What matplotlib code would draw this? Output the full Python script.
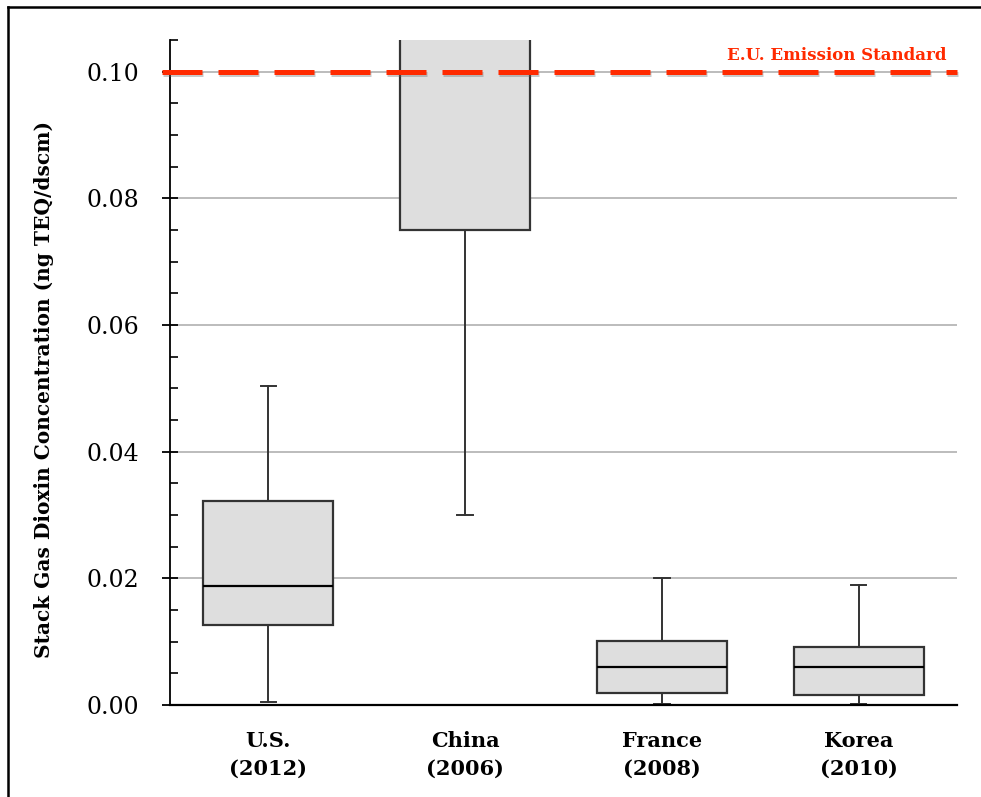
import matplotlib
matplotlib.use("Agg")
import matplotlib.pyplot as plt
import matplotlib.patheffects as pe
from matplotlib.lines import Line2D
from matplotlib.ticker import MultipleLocator, FormatStrFormatter

# Box-plot summary statistics (ng TEQ/dscm); China's upper part runs off the chart
countries = ["U.S.\n(2012)", "China\n(2006)", "France\n(2008)", "Korea\n(2010)"]
whisker_low = [0.0005, 0.030, 0.0002, 0.0002]
q1 = [0.0126, 0.075, 0.0019, 0.0016]
median = [0.0188, 0.120, 0.0060, 0.0060]
q3 = [0.0322, 0.150, 0.0101, 0.0091]
whisker_high = [0.0504, 0.200, 0.0200, 0.0190]

eu_standard = 0.10

stats = []
for lab, lo, a, m, b, hi in zip(countries, whisker_low, q1, median, q3, whisker_high):
    stats.append(dict(label=lab, whislo=lo, q1=a, med=m, q3=b, whishi=hi, fliers=[]))

plt.rcParams["font.family"] = "DejaVu Serif"

fig = plt.figure(figsize=(9.81, 7.97), dpi=100)
ax = fig.add_axes([0.1733, 0.1154, 0.8022, 0.8344])

ax.grid(axis="y", color="#aaaaaa", linewidth=1.1, zorder=0)
ax.set_axisbelow(True)

ax.bxp(stats, widths=0.66, patch_artist=True, showfliers=False, capwidths=0.08,
       boxprops=dict(facecolor="#dedede", edgecolor="#333333", linewidth=1.6),
       medianprops=dict(color="black", linewidth=1.6),
       whiskerprops=dict(color="#333333", linewidth=1.4),
       capprops=dict(color="#333333", linewidth=1.4))

# E.U. limit as a dashed red line with a soft drop shadow
ax.axhline(eu_standard, xmin=-0.01, xmax=1.0, color="#ff2a00", linewidth=3.6,
           dashes=(8.0, 3.2), dash_capstyle="butt", clip_on=False, zorder=5,
           path_effects=[pe.SimpleLineShadow(offset=(0.6, -1.6), shadow_color="#666666", alpha=0.35),
                         pe.Normal()])
ax.text(0.987, eu_standard + 0.0012, "E.U. Emission Standard", transform=ax.get_yaxis_transform(),
        ha="right", va="bottom", color="#ff2a00", fontsize=12, fontweight="bold", zorder=6)

ax.set_xlim(0.5, 4.5)
ax.set_ylim(0, 0.105)
ax.yaxis.set_major_locator(MultipleLocator(0.02))
ax.yaxis.set_minor_locator(MultipleLocator(0.005))
ax.yaxis.set_major_formatter(FormatStrFormatter("%.2f"))
ax.tick_params(axis="y", which="major", direction="inout", length=11, width=1.3,
               labelsize=17, pad=17)
ax.tick_params(axis="y", which="minor", direction="in", length=5.5, width=1.2)
ax.tick_params(axis="x", length=0, labelsize=15, pad=19)
for t in ax.get_xticklabels():
    t.set_fontweight("bold")
    t.set_linespacing(1.45)

for side in ("top", "right"):
    ax.spines[side].set_visible(False)
ax.spines["left"].set_linewidth(1.3)
ax.spines["bottom"].set_linewidth(1.6)

ax.set_ylabel("Stack Gas Dioxin Concentration (ng TEQ/dscm)", fontsize=14.5, fontweight="bold")
ax.yaxis.set_label_coords(-0.147, 0.474)

# frame lines along the top and left edges
fig.add_artist(Line2D([8 / 981, 1.01], [1 - 7 / 797, 1 - 7 / 797], color="black", linewidth=1.8))
fig.add_artist(Line2D([8 / 981, 8 / 981], [-0.01, 1 - 7 / 797], color="black", linewidth=1.8))

fig.savefig("out.png", dpi=100)
